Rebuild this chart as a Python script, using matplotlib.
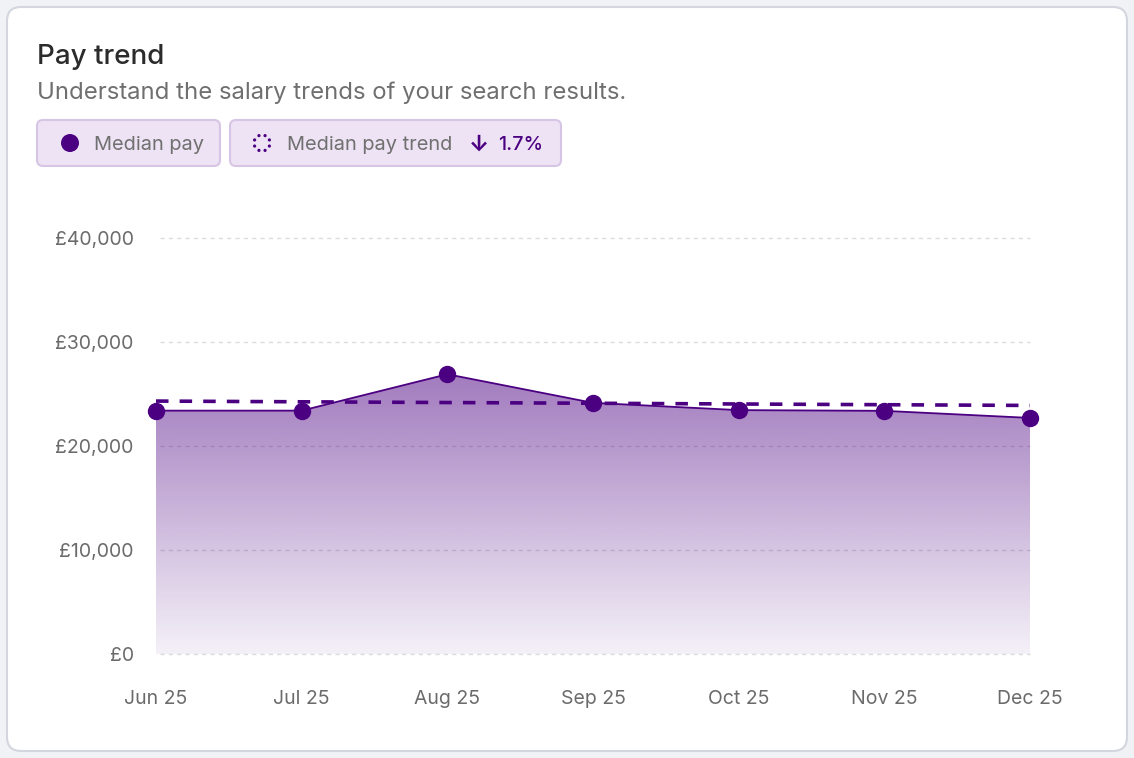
import matplotlib
matplotlib.use("Agg")
import matplotlib.pyplot as plt
import numpy as np
from matplotlib.patches import FancyBboxPatch, Circle
from matplotlib.colors import to_rgb

plt.rcParams['font.family'] = ['Inter', 'DejaVu Sans']
plt.rcParams['lines.scale_dashes'] = False

months = ["Jun 25", "Jul 25", "Aug 25", "Sep 25", "Oct 25", "Nov 25", "Dec 25"]
median_pay = [23400, 23400, 26900, 24150, 23450, 23380, 22700]
trend_start, trend_end = 24320, 23900
y_ticks = [0, 10000, 20000, 30000, 40000]
y_tick_labels = ["£0", "£10,000", "£20,000", "£30,000", "£40,000"]
title = "Pay trend"
subtitle = "Understand the salary trends of your search results."
legend_labels = ["Median pay", "Median pay trend"]
trend_change = "1.7%"

PURPLE = "#4b0082"
W, H = 1134, 758
fig = plt.figure(figsize=(W / 100, H / 100), dpi=100)
fig.patch.set_facecolor("#f1f2f6")

# background / card axes in pixel coords
bg = fig.add_axes([0, 0, 1, 1])
bg.set_xlim(0, W)
bg.set_ylim(H, 0)
bg.axis("off")
bg.add_patch(FancyBboxPatch((7, 7), 1120, 744, boxstyle="round,pad=0,rounding_size=14",
                            facecolor="white", edgecolor="#d3d5df", linewidth=1.5))
bg.text(37, 57, title, fontsize=20, color="#2b2b2b", va="center", ha="left",
        fontweight="medium")
bg.text(37, 93, subtitle, fontsize=17.2, color="#6f6f6f", va="center", ha="left")

# legend pills
pill_fc, pill_ec = "#ede3f4", "#d6c5e4"
bg.add_patch(FancyBboxPatch((37, 120), 183, 46, boxstyle="round,pad=0,rounding_size=6",
                            facecolor=pill_fc, edgecolor=pill_ec, linewidth=1.5))
bg.add_patch(FancyBboxPatch((230, 120), 331, 46, boxstyle="round,pad=0,rounding_size=6",
                            facecolor=pill_fc, edgecolor=pill_ec, linewidth=1.5))
bg.add_patch(Circle((70, 143), 9, facecolor=PURPLE, edgecolor="none"))
for ang in np.arange(8) * np.pi / 4 + np.pi / 8:
    bg.add_patch(Circle((262 + 8 * np.cos(ang), 143 + 8 * np.sin(ang)), 1.6,
                        facecolor=PURPLE, edgecolor="none"))
bg.text(94, 145, legend_labels[0], fontsize=14.4, color="#707070", va="center", ha="left")
bg.text(287, 145, legend_labels[1], fontsize=14.4, color="#707070", va="center", ha="left")
bg.text(469, 145, "↓", fontsize=16, color=PURPLE, va="center", ha="left", fontweight="bold")
bg.text(498, 145, trend_change, fontsize=14.2, color=PURPLE, va="center", ha="left",
        fontweight="medium")

# chart axes
left, right, top, bottom = 156, 1030, 238, 654
ax = fig.add_axes([left / W, (H - bottom) / H, (right - left) / W, (bottom - top) / H])
ax.set_facecolor("none")
x = np.arange(len(months))

# gradient fill
ymax_fill = max(median_pay)
grad = np.linspace(0.06, 0.52, 256).reshape(-1, 1)
rgb = np.array(to_rgb(PURPLE))
img = np.zeros((256, 1, 4))
img[..., :3] = rgb
img[..., 3] = grad
poly = ax.fill_between(x, 0, median_pay, facecolor="none", edgecolor="none")
im = ax.imshow(img, extent=[0, len(months) - 1, 0, ymax_fill], origin="lower",
               aspect="auto", zorder=1, interpolation="bilinear")
im.set_clip_path(poly.get_paths()[0], transform=ax.transData)
ax.set_ylim(0, 40000)
ax.set_xlim(0, len(months) - 1)

for yt in y_ticks:
    ax.plot([0.03, len(months) - 1], [yt, yt], color="#dcdcdc", lw=1.0,
            linestyle=(0, (3, 3)), zorder=0.5, clip_on=False)

ax.plot(x, median_pay, color=PURPLE, lw=1.3, zorder=3, clip_on=False)
ax.plot([0, len(months) - 1], [trend_start, trend_end], color=PURPLE, lw=2.6,
        linestyle=(0, (9, 8)), zorder=3.5, clip_on=False)
ax.plot(x, median_pay, linestyle="none", marker="o", markersize=11.5, color=PURPLE,
        zorder=4, clip_on=False)

for s in ax.spines.values():
    s.set_visible(False)
ax.set_xticks(x)
ax.set_xticklabels(months)
ax.set_yticks(y_ticks)
ax.set_yticklabels(y_tick_labels)
ax.tick_params(axis="both", length=0, colors="#6b6b6b", labelsize=14)
ax.tick_params(axis="x", pad=26)
ax.tick_params(axis="y", pad=16)

fig.savefig("out.png", dpi=100, facecolor=fig.get_facecolor())
